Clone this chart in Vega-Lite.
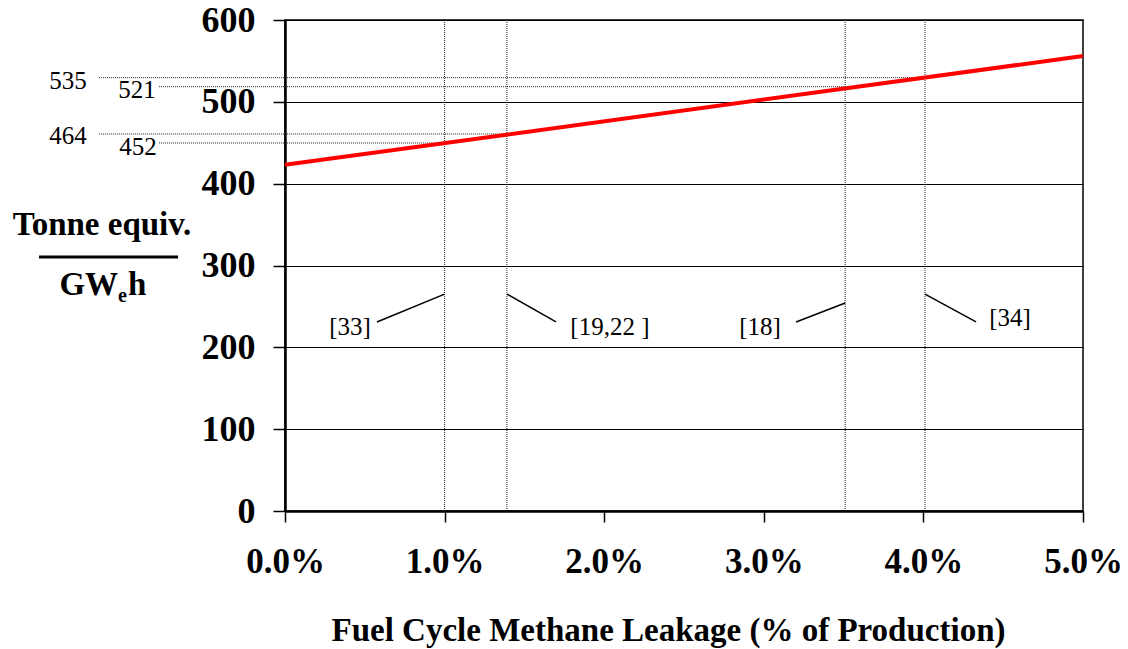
{
  "$schema": "https://vega.github.io/schema/vega-lite/v6.json",
  "width": 798,
  "height": 491,
  "autosize": {"type": "none"},
  "padding": {"left": 285, "top": 20, "right": 45, "bottom": 138},
  "background": "white",
  "config": {
    "view": {"stroke": "black", "strokeWidth": 1.5},
    "font": "Liberation Serif"
  },
  "datasets": {
    "series": [{"x": 0, "y": 423}, {"x": 5, "y": 556}],
    "vlines": [{"x": 1.0}, {"x": 1.39}, {"x": 3.51}, {"x": 4.01}],
    "hlines": [
      {"x": -1.165, "x2": 4.01, "y": 529.5, "lx": -1.36, "ly": 525.5, "label": "535"},
      {"x": -0.789, "x2": 3.51, "y": 518.5, "lx": -0.927, "ly": 514.5, "label": "521"},
      {"x": -1.165, "x2": 1.39, "y": 460.7, "lx": -1.36, "ly": 458.3, "label": "464"},
      {"x": -0.789, "x2": 1.0, "y": 449.7, "lx": -0.921, "ly": 444.8, "label": "452"}
    ],
    "refs": [
      {"label": "[33]", "tx": 0.407, "ty": 224.9, "x": 0.576, "y": 231, "x2": 1.0, "y2": 265},
      {"label": "[19,22 ]", "tx": 2.036, "ty": 224.9, "x": 1.391, "y": 265, "x2": 1.698, "y2": 231},
      {"label": "[18]", "tx": 2.976, "ty": 224.9, "x": 3.202, "y": 231, "x2": 3.51, "y2": 254.2},
      {"label": "[34]", "tx": 4.543, "ty": 235.8, "x": 4.01, "y": 265, "x2": 4.33, "y2": 231}
    ],
    "ytitleTop": [{"text": "Tonne equiv.", "x": -1.147, "y": 337.3}],
    "ytitleGW": [{"text": "GW", "x": -1.046, "y": 264.0}],
    "ytitleE": [{"text": "e", "x": -1.046, "y": 255.4}],
    "ytitleH": [{"text": "h", "x": -0.984, "y": 264.0}],
    "ytitleRule": [{"x": -1.541, "x2": -0.670, "y": 310.4}]
  },
  "layer": [
    {
      "data": {"name": "vlines"},
      "mark": {"type": "rule", "color": "#222", "strokeWidth": 1, "strokeDash": [1, 1]},
      "encoding": {
        "x": {"field": "x", "type": "quantitative", "scale": {"domain": [0, 5], "nice": false, "zero": false},
          "axis": {
            "values": [0, 1, 2, 3, 4, 5],
            "labelExpr": "format(datum.value, '.1f') + '%'",
            "labelFont": "Liberation Serif", "labelFontWeight": "bold", "labelFontSize": 35, "labelColor": "black",
            "labelPadding": 22, "labelFlush": false,
            "tickColor": "black", "tickSize": 11, "tickWidth": 1.5,
            "domainColor": "black", "domainWidth": 2.5,
            "grid": false,
            "title": "Fuel Cycle Methane Leakage (% of Production)",
            "titleFont": "Liberation Serif", "titleFontWeight": "bold", "titleFontSize": 33, "titleColor": "black",
            "titlePadding": 35, "titleX": 383
          }
        },
        "y": {"datum": 0, "type": "quantitative", "scale": {"domain": [0, 600], "nice": false},
          "axis": {
            "values": [0, 100, 200, 300, 400, 500, 600],
            "labelFont": "Liberation Serif", "labelFontWeight": "bold", "labelFontSize": 36, "labelColor": "black",
            "labelPadding": 18,
            "tickColor": "black", "tickSize": 12, "tickWidth": 1.5,
            "domainColor": "black", "domainWidth": 2.5,
            "grid": true, "gridColor": "black", "gridWidth": 1.2, "gridOpacity": 1,
            "title": null
          }
        },
        "y2": {"datum": 600}
      }
    },
    {
      "data": {"name": "hlines"},
      "mark": {"type": "rule", "color": "#222", "strokeWidth": 1, "strokeDash": [1, 1]},
      "encoding": {
        "x": {"field": "x", "type": "quantitative"},
        "x2": {"field": "x2"},
        "y": {"field": "y", "type": "quantitative"}
      }
    },
    {
      "data": {"name": "hlines"},
      "mark": {"type": "text", "fontSize": 25, "font": "Liberation Serif", "color": "black", "baseline": "middle", "align": "center"},
      "encoding": {
        "x": {"field": "lx", "type": "quantitative"},
        "y": {"field": "ly", "type": "quantitative"},
        "text": {"field": "label"}
      }
    },
    {
      "data": {"name": "refs"},
      "mark": {"type": "rule", "color": "black", "strokeWidth": 1.5},
      "encoding": {
        "x": {"field": "x", "type": "quantitative"},
        "y": {"field": "y", "type": "quantitative"},
        "x2": {"field": "x2"},
        "y2": {"field": "y2"}
      }
    },
    {
      "data": {"name": "refs"},
      "mark": {"type": "text", "fontSize": 25, "font": "Liberation Serif", "color": "black", "baseline": "middle", "align": "center"},
      "encoding": {
        "x": {"field": "tx", "type": "quantitative"},
        "y": {"field": "ty", "type": "quantitative"},
        "text": {"field": "label"}
      }
    },
    {
      "data": {"name": "ytitleRule"},
      "mark": {"type": "rule", "color": "black", "strokeWidth": 3},
      "encoding": {
        "x": {"field": "x", "type": "quantitative"},
        "x2": {"field": "x2"},
        "y": {"field": "y", "type": "quantitative"}
      }
    },
    {
      "data": {"name": "ytitleTop"},
      "mark": {"type": "text", "fontSize": 33, "fontWeight": "bold", "font": "Liberation Serif", "color": "black", "baseline": "alphabetic", "align": "center"},
      "encoding": {
        "x": {"field": "x", "type": "quantitative"},
        "y": {"field": "y", "type": "quantitative"},
        "text": {"field": "text"}
      }
    },
    {
      "data": {"name": "ytitleGW"},
      "mark": {"type": "text", "fontSize": 33, "fontWeight": "bold", "font": "Liberation Serif", "color": "black", "baseline": "alphabetic", "align": "right"},
      "encoding": {
        "x": {"field": "x", "type": "quantitative"},
        "y": {"field": "y", "type": "quantitative"},
        "text": {"field": "text"}
      }
    },
    {
      "data": {"name": "ytitleE"},
      "mark": {"type": "text", "fontSize": 20, "fontWeight": "bold", "font": "Liberation Serif", "color": "black", "baseline": "alphabetic", "align": "left"},
      "encoding": {
        "x": {"field": "x", "type": "quantitative"},
        "y": {"field": "y", "type": "quantitative"},
        "text": {"field": "text"}
      }
    },
    {
      "data": {"name": "ytitleH"},
      "mark": {"type": "text", "fontSize": 33, "fontWeight": "bold", "font": "Liberation Serif", "color": "black", "baseline": "alphabetic", "align": "left"},
      "encoding": {
        "x": {"field": "x", "type": "quantitative"},
        "y": {"field": "y", "type": "quantitative"},
        "text": {"field": "text"}
      }
    },
    {
      "data": {"name": "series"},
      "mark": {"type": "line", "color": "#ff0000", "strokeWidth": 4},
      "encoding": {
        "x": {"field": "x", "type": "quantitative"},
        "y": {"field": "y", "type": "quantitative"}
      }
    }
  ]
}
